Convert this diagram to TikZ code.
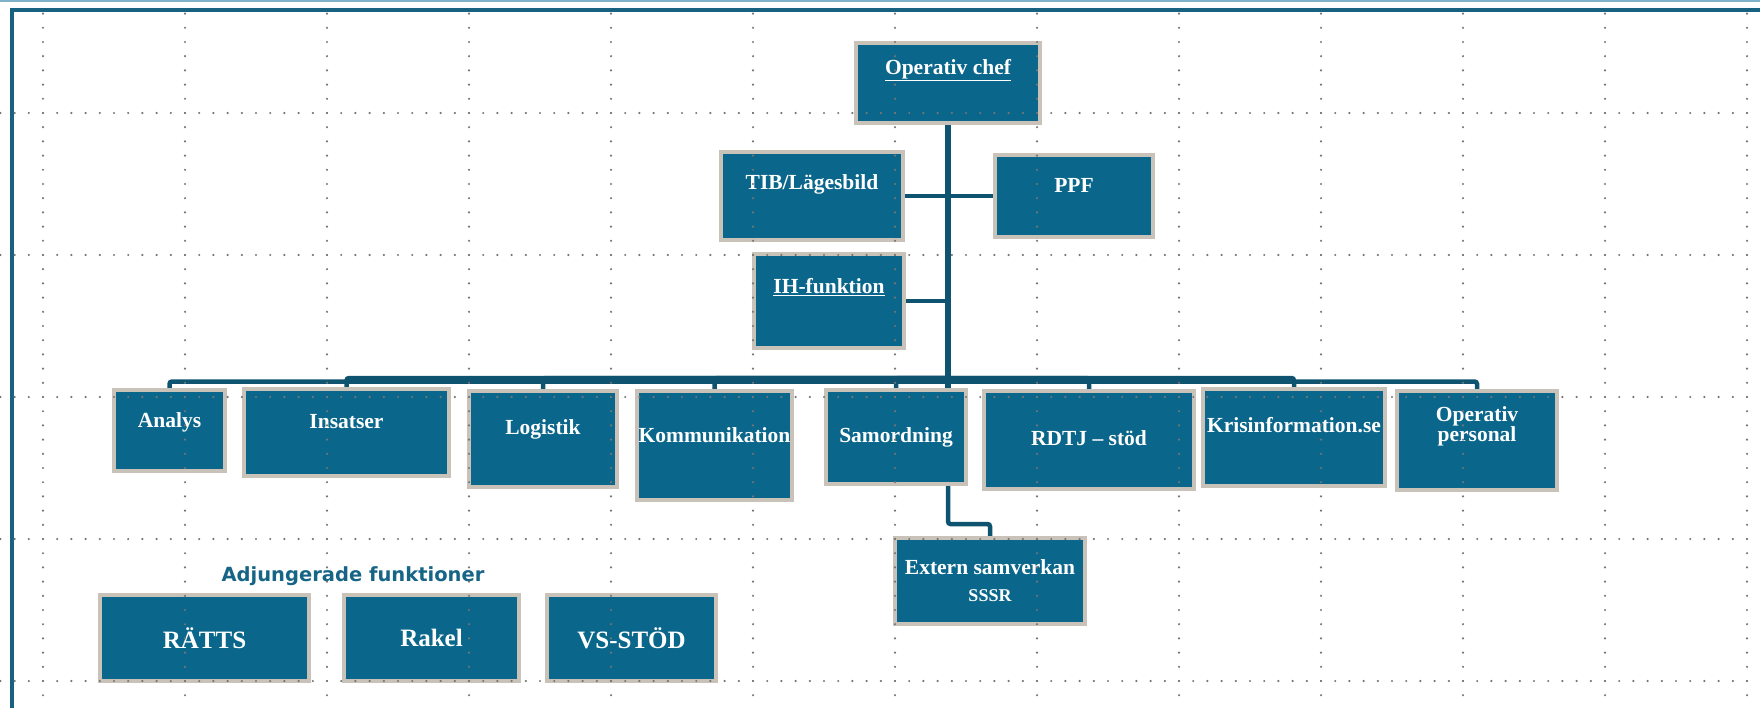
\documentclass[tikz,border=0pt]{standalone}
\usepackage{fontspec}
\setmainfont{Liberation Serif}
\newfontfamily\adjfont{DejaVu Sans}
\usepackage{tikz}
\usetikzlibrary{backgrounds}

\definecolor{orgblue}{RGB}{10,102,138}
\definecolor{orgrim}{RGB}{201,194,185}
\definecolor{orgline}{RGB}{14,84,112}
\definecolor{framecol}{RGB}{22,98,128}
\definecolor{framelight}{RGB}{125,178,200}
\definecolor{griddots}{RGB}{118,118,118}
\definecolor{adjcol}{RGB}{22,100,134}

\begin{document}
\begin{tikzpicture}[x=1pt,y=-1pt,
    orgbox/.style={draw=orgrim,line width=4pt,fill=orgblue,inner sep=0pt},
    boxlabel/.style={text=white,font=\bfseries\fontsize{21.5}{18}\selectfont,align=center,inner sep=0pt},
    biglabel/.style={text=white,font=\bfseries\fontsize{25}{28}\selectfont,inner sep=0pt},
    link/.style={draw=orgline,line width=4.5pt,rounded corners=2.5pt},
    griddot/.style={griddots,line width=2.4pt,line cap=round,dash pattern=on 0pt off 14.2pt}]
    \useasboundingbox (0,0) rectangle (1760,708);

    % Top level
    \node[orgbox,minimum width=184pt,minimum height=80pt] (chef) at (948,83) {};
    \node[orgbox,minimum width=182pt,minimum height=88pt] (tib) at (812,196) {};
    \node[orgbox,minimum width=158pt,minimum height=82pt] (ppf) at (1074,196) {};
    \node[orgbox,minimum width=150pt,minimum height=94pt] (ih) at (829,301) {};

    % Functions
    \node[orgbox,minimum width=111pt,minimum height=81pt] (analys) at (169.5,430.5) {};
    \node[orgbox,minimum width=205pt,minimum height=87pt] (insatser) at (346.5,432.5) {};
    \node[orgbox,minimum width=148pt,minimum height=96pt] (logistik) at (543,439) {};
    \node[orgbox,minimum width=155pt,minimum height=109pt] (kommunikation) at (714.5,445.5) {};
    \node[orgbox,minimum width=140pt,minimum height=94pt] (samordning) at (896,437) {};
    \node[orgbox,minimum width=210pt,minimum height=98pt] (rdtj) at (1089,440) {};
    \node[orgbox,minimum width=182pt,minimum height=97pt] (krisinfo) at (1294,437.5) {};
    \node[orgbox,minimum width=160pt,minimum height=99pt] (personal) at (1477,440.5) {};
    \node[orgbox,minimum width=190pt,minimum height=86pt] (extern) at (990,581) {};

    % Adjungerade funktioner
    \node[orgbox,minimum width=209pt,minimum height=86pt] (ratts) at (204.5,638) {};
    \node[orgbox,minimum width=175pt,minimum height=86pt] (rakel) at (431.5,638) {};
    \node[orgbox,minimum width=169pt,minimum height=86pt] (vsstod) at (631.5,638) {};

    % Labels
    \node[boxlabel] (chef-t) at ([yshift=13pt]chef.center) {\underline{Operativ chef}};
    \node[boxlabel] (tib-t) at ([yshift=12pt]tib.center) {TIB/Lägesbild};
    \node[boxlabel] (ppf-t) at ([yshift=11pt]ppf.center) {PPF};
    \node[boxlabel] (ih-t) at ([yshift=14pt]ih.center) {\underline{IH-funktion}};
    \node[boxlabel] (analys-t) at ([yshift=8pt]analys.center) {Analys};
    \node[boxlabel] (insatser-t) at ([yshift=11pt]insatser.center) {Insatser};
    \node[boxlabel] (logistik-t) at ([yshift=10pt]logistik.center) {Logistik};
    \node[boxlabel] (kommunikation-t) at ([yshift=10pt]kommunikation.center) {Kommunikation};
    \node[boxlabel] (samordning-t) at ([yshift=0pt]samordning.center) {Samordning};
    \node[boxlabel] (rdtj-t) at ([yshift=2pt]rdtj.center) {RDTJ -- stöd};
    \node[boxlabel] (krisinfo-t) at ([yshift=12pt]krisinfo.center) {Krisinformation.se};
    \node[boxlabel] (personal-t) at ([yshift=14pt]personal.center) {Operativ\\personal};
    \node[boxlabel,font=\bfseries\fontsize{21.5}{27}\selectfont] (extern-t) at (extern.center)
        {Extern samverkan\\{\fontsize{18}{27}\selectfont SSSR}};
    \node[biglabel] (ratts-t) at (ratts.center) {RÄTTS};
    \node[biglabel] (rakel-t) at (rakel.center) {Rakel};
    \node[biglabel] (vsstod-t) at (vsstod.center) {VS-STÖD};
    \node[text=adjcol,font=\adjfont\bfseries\fontsize{19.5}{22}\selectfont] (adj-t) at (353,576)
        {Adjungerade funktioner};

    \begin{scope}[on background layer]
        % Frame
        \draw[framelight,line width=2pt] (0,1) -- (1760,1);
        \draw[framecol,line width=3.5pt] (12,708) -- (12,10) -- (1760,10);

        % Connectors
        \coordinate (hub) at (948,378);
        \coordinate (hublow) at (948,381.5);
        \draw[link,line width=6.5pt] (chef.south) -- (chef.south |- samordning.north);
        \draw[link] (tib.east) -- (ppf.west);
        \draw[link] (ih.east) -- (ih.east -| chef.south);
        \draw[link] (hublow) -| (analys.north);
        \foreach \b in {insatser,logistik,kommunikation,samordning,rdtj,krisinfo}
            \draw[link] (hub) -| (\b.north);
        \draw[link] (hublow) -| (personal.north);
        \coordinate (extbend) at (948,524);
        \draw[link] (chef.south |- samordning.south) -- (extbend) -| (extern.north);
    \end{scope}

    % Grid
    \foreach \gx in {43,185,...,1747}
        \draw[griddot] (\gx,13.6) -- (\gx,708);
    \foreach \gy in {113,255,...,681}
        \draw[griddot] (0.4,\gy) -- (1760,\gy);
\end{tikzpicture}
\end{document}
